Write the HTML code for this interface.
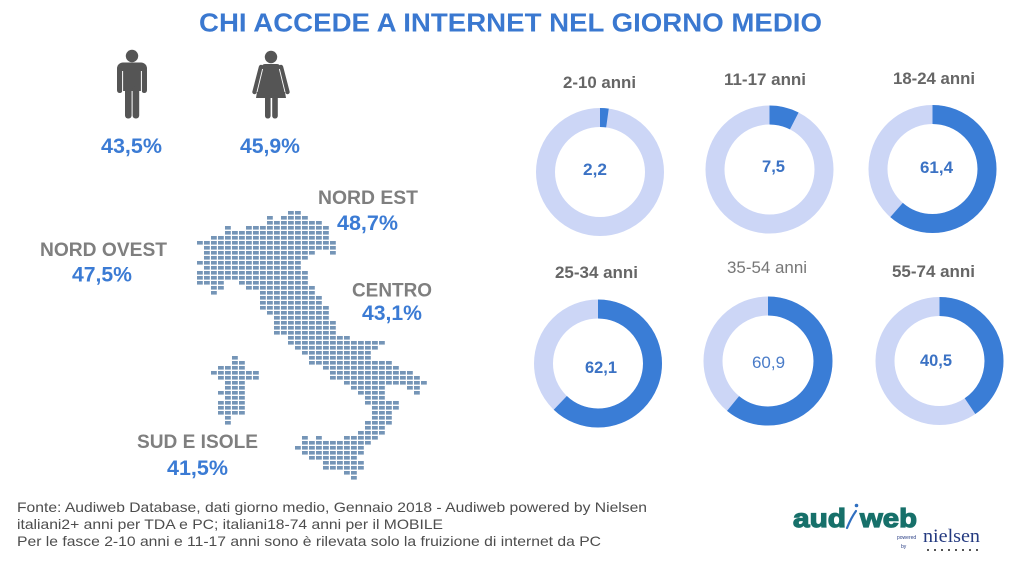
<!DOCTYPE html>
<html><head><meta charset="utf-8">
<style>
html,body{margin:0;padding:0;background:#fff;}
svg{display:block;}
text{font-family:"Liberation Sans",Arial,sans-serif;}
</style></head>
<body>
<svg width="1024" height="565" viewBox="0 0 1024 565" xmlns="http://www.w3.org/2000/svg">
<defs>
<pattern id="d" x="197" y="211" width="7" height="5" patternUnits="userSpaceOnUse">
<rect x="0" y="0" width="5.8" height="3.6" fill="#7595b7"/>
</pattern>
</defs>
<rect width="1024" height="565" fill="#fff"/>

<!-- Title -->
<text x="199" y="31.5" font-size="26" font-weight="bold" fill="#3a78d0" textLength="623" lengthAdjust="spacingAndGlyphs">CHI ACCEDE A INTERNET NEL GIORNO MEDIO</text>

<!-- Man icon -->
<g fill="#555">
<circle cx="132" cy="56" r="6.2"/>
<rect x="117" y="62.5" width="30" height="13" rx="6"/>
<rect x="123" y="66" width="18" height="25"/>
<rect x="117" y="68" width="5.5" height="25" rx="2.7"/>
<rect x="141.5" y="68" width="5.5" height="25" rx="2.7"/>
<rect x="125" y="86" width="6.6" height="32.5" rx="3"/>
<rect x="132.6" y="86" width="6.6" height="32.5" rx="3"/>
</g>
<line x1="122.6" y1="71" x2="122.6" y2="93" stroke="#fff" stroke-width="1"/>
<line x1="141.4" y1="71" x2="141.4" y2="93" stroke="#fff" stroke-width="1"/>

<!-- Woman icon -->
<g fill="#555">
<circle cx="271" cy="57" r="6.2"/>
<path d="M265,64 L277,64 Q280,64 281,68 L286,98 L256,98 L261,68 Q262,64 265,64 Z"/>
<rect x="265" y="95" width="5.6" height="23.5" rx="2.6"/>
<rect x="272.2" y="95" width="5.6" height="23.5" rx="2.6"/>
</g>
<line x1="261" y1="67" x2="254.5" y2="92" stroke="#555" stroke-width="4.4" stroke-linecap="round"/>
<line x1="281" y1="67" x2="287.5" y2="92" stroke="#555" stroke-width="4.4" stroke-linecap="round"/>
<line x1="262.6" y1="69" x2="257" y2="92" stroke="#fff" stroke-width="0.9"/>
<line x1="279.4" y1="69" x2="285" y2="92" stroke="#fff" stroke-width="0.9"/>

<text x="101" y="153" font-size="21" font-weight="bold" fill="#3b7bd4" textLength="61" lengthAdjust="spacingAndGlyphs">43,5%</text>
<text x="240" y="153" font-size="21" font-weight="bold" fill="#3b7bd4" textLength="60" lengthAdjust="spacingAndGlyphs">45,9%</text>

<!-- Italy dot map -->
<g fill="url(#d)">
<rect x="288" y="211" width="14" height="5"/>
<rect x="267" y="216" width="7" height="5"/><rect x="281" y="216" width="28" height="5"/>
<rect x="267" y="221" width="56" height="5"/>
<rect x="225" y="226" width="7" height="5"/><rect x="246" y="226" width="84" height="5"/>
<rect x="225" y="231" width="105" height="5"/>
<rect x="211" y="236" width="119" height="5"/>
<rect x="197" y="241" width="140" height="5"/>
<rect x="204" y="246" width="133" height="5"/>
<rect x="204" y="251" width="112" height="5"/><rect x="330" y="251" width="7" height="5"/>
<rect x="204" y="256" width="105" height="5"/>
<rect x="197" y="261" width="105" height="5"/>
<rect x="204" y="266" width="98" height="5"/>
<rect x="197" y="271" width="112" height="5"/>
<rect x="197" y="276" width="112" height="5"/>
<rect x="197" y="281" width="28" height="5"/><rect x="239" y="281" width="70" height="5"/>
<rect x="211" y="286" width="14" height="5"/><rect x="246" y="286" width="70" height="5"/>
<rect x="211" y="291" width="7" height="5"/><rect x="260" y="291" width="56" height="5"/>
<rect x="260" y="296" width="63" height="5"/>
<rect x="260" y="301" width="63" height="5"/>
<rect x="260" y="306" width="70" height="5"/>
<rect x="267" y="311" width="63" height="5"/>
<rect x="274" y="316" width="56" height="5"/>
<rect x="274" y="321" width="63" height="5"/>
<rect x="274" y="326" width="63" height="5"/>
<rect x="274" y="331" width="63" height="5"/>
<rect x="288" y="336" width="63" height="5"/>
<rect x="288" y="341" width="98" height="5"/>
<rect x="295" y="346" width="84" height="5"/>
<rect x="302" y="351" width="70" height="5"/>
<rect x="309" y="356" width="63" height="5"/>
<rect x="309" y="361" width="84" height="5"/>
<rect x="323" y="366" width="77" height="5"/>
<rect x="330" y="371" width="84" height="5"/>
<rect x="330" y="376" width="91" height="5"/>
<rect x="344" y="381" width="84" height="5"/>
<rect x="351" y="386" width="35" height="5"/><rect x="407" y="386" width="14" height="5"/>
<rect x="358" y="391" width="28" height="5"/><rect x="414" y="391" width="7" height="5"/>
<rect x="365" y="396" width="21" height="5"/>
<rect x="365" y="401" width="35" height="5"/>
<rect x="372" y="406" width="28" height="5"/>
<rect x="372" y="411" width="21" height="5"/>
<rect x="372" y="416" width="21" height="5"/>
<rect x="365" y="421" width="28" height="5"/>
<rect x="365" y="426" width="21" height="5"/>
<rect x="358" y="431" width="28" height="5"/>
<rect x="302" y="436" width="7" height="5"/><rect x="316" y="436" width="7" height="5"/><rect x="344" y="436" width="35" height="5"/>
<rect x="302" y="441" width="70" height="5"/>
<rect x="295" y="446" width="70" height="5"/>
<rect x="302" y="451" width="63" height="5"/>
<rect x="309" y="456" width="49" height="5"/>
<rect x="323" y="461" width="42" height="5"/>
<rect x="323" y="466" width="42" height="5"/>
<rect x="344" y="471" width="14" height="5"/>
<rect x="351" y="476" width="7" height="5"/>
<!-- Sardinia -->
<rect x="232" y="356" width="7" height="5"/>
<rect x="232" y="361" width="14" height="5"/>
<rect x="218" y="366" width="28" height="5"/>
<rect x="211" y="371" width="49" height="5"/>
<rect x="218" y="376" width="42" height="5"/>
<rect x="225" y="381" width="21" height="5"/>
<rect x="225" y="386" width="21" height="5"/>
<rect x="218" y="391" width="28" height="5"/>
<rect x="225" y="396" width="21" height="5"/>
<rect x="218" y="401" width="28" height="5"/>
<rect x="218" y="406" width="28" height="5"/>
<rect x="218" y="411" width="28" height="5"/>
<rect x="225" y="416" width="7" height="5"/>
<rect x="225" y="421" width="7" height="5"/>
</g>

<!-- Region labels -->
<g font-weight="bold">
<text x="318" y="204" font-size="19.5" fill="#7f7f7f" textLength="100" lengthAdjust="spacingAndGlyphs">NORD EST</text>
<text x="337" y="230" font-size="21" fill="#3b7bd4" textLength="61" lengthAdjust="spacingAndGlyphs">48,7%</text>
<text x="40" y="256" font-size="19.5" fill="#7f7f7f" textLength="127" lengthAdjust="spacingAndGlyphs">NORD OVEST</text>
<text x="72" y="281.5" font-size="21" fill="#3b7bd4" textLength="60" lengthAdjust="spacingAndGlyphs">47,5%</text>
<text x="352" y="296.5" font-size="19.5" fill="#7f7f7f" textLength="80" lengthAdjust="spacingAndGlyphs">CENTRO</text>
<text x="362" y="320" font-size="21" fill="#3b7bd4" textLength="60" lengthAdjust="spacingAndGlyphs">43,1%</text>
<text x="137" y="448" font-size="19.5" fill="#7f7f7f" textLength="121" lengthAdjust="spacingAndGlyphs">SUD E ISOLE</text>
<text x="167" y="475" font-size="21" fill="#3b7bd4" textLength="61" lengthAdjust="spacingAndGlyphs">41,5%</text>
</g>

<!-- Donuts (r=54.5, C=342.43) -->
<g fill="none" stroke-width="19">
<circle cx="600" cy="172" r="54.5" stroke="#ccd6f6"/>
<circle cx="600" cy="172" r="54.5" stroke="#3a7dd6" stroke-dasharray="7.53 400" transform="rotate(-90 600 172)"/>
<circle cx="769.5" cy="169.5" r="54.5" stroke="#ccd6f6"/>
<circle cx="769.5" cy="169.5" r="54.5" stroke="#3a7dd6" stroke-dasharray="25.68 400" transform="rotate(-90 769.5 169.5)"/>
<circle cx="932.5" cy="169" r="54.5" stroke="#ccd6f6"/>
<circle cx="932.5" cy="169" r="54.5" stroke="#3a7dd6" stroke-dasharray="210.25 400" transform="rotate(-90 932.5 169)"/>
<circle cx="598" cy="363.5" r="54.5" stroke="#ccd6f6"/>
<circle cx="598" cy="363.5" r="54.5" stroke="#3a7dd6" stroke-dasharray="212.65 400" transform="rotate(-90 598 363.5)"/>
<circle cx="768" cy="361" r="55" stroke="#ccd6f6"/>
<circle cx="768" cy="361" r="55" stroke="#3a7dd6" stroke-dasharray="210.45 400" transform="rotate(-90 768 361)"/>
<circle cx="939.5" cy="361" r="54.5" stroke="#ccd6f6"/>
<circle cx="939.5" cy="361" r="54.5" stroke="#3a7dd6" stroke-dasharray="138.68 400" transform="rotate(-90 939.5 361)"/>
</g>

<!-- Age labels -->
<g font-size="17" fill="#666">
<text x="563" y="88" font-weight="bold" textLength="73" lengthAdjust="spacingAndGlyphs">2-10 anni</text>
<text x="724" y="85" font-weight="bold" textLength="82" lengthAdjust="spacingAndGlyphs">11-17 anni</text>
<text x="893" y="84" font-weight="bold" textLength="82" lengthAdjust="spacingAndGlyphs">18-24 anni</text>
<text x="555" y="278" font-weight="bold" textLength="83" lengthAdjust="spacingAndGlyphs">25-34 anni</text>
<text x="727" y="273" fill="#777" textLength="80" lengthAdjust="spacingAndGlyphs">35-54 anni</text>
<text x="892" y="277" font-weight="bold" textLength="83" lengthAdjust="spacingAndGlyphs">55-74 anni</text>
</g>

<!-- Donut values -->
<g font-size="17" fill="#3b72c4">
<text x="583" y="175" font-weight="bold" textLength="24" lengthAdjust="spacingAndGlyphs">2,2</text>
<text x="762" y="172" font-weight="bold" textLength="23" lengthAdjust="spacingAndGlyphs">7,5</text>
<text x="920" y="173" font-weight="bold" textLength="33" lengthAdjust="spacingAndGlyphs">61,4</text>
<text x="585" y="373" font-weight="bold" textLength="32" lengthAdjust="spacingAndGlyphs">62,1</text>
<text x="752" y="368" fill="#4a7cc8" textLength="33" lengthAdjust="spacingAndGlyphs">60,9</text>
<text x="920" y="366" font-weight="bold" textLength="32" lengthAdjust="spacingAndGlyphs">40,5</text>
</g>

<!-- Footer -->
<g font-size="14" fill="#4d4d4d">
<text x="17" y="512" textLength="630" lengthAdjust="spacingAndGlyphs">Fonte: Audiweb Database, dati giorno medio, Gennaio 2018 - Audiweb powered by Nielsen</text>
<text x="17" y="529" textLength="426" lengthAdjust="spacingAndGlyphs">italiani2+ anni per TDA e PC; italiani18-74 anni per il MOBILE</text>
<text x="17" y="546" textLength="584" lengthAdjust="spacingAndGlyphs">Per le fasce 2-10 anni e 11-17 anni sono è rilevata solo la fruizione di internet da PC</text>
</g>

<!-- Logo -->
<g font-weight="bold" font-size="26" fill="#17706a" stroke="#17706a" stroke-width="1.2">
<text x="793" y="527" textLength="53" lengthAdjust="spacingAndGlyphs">aud</text>
<text x="860" y="527" textLength="57" lengthAdjust="spacingAndGlyphs">web</text>
</g>
<path d="M847,528 Q851,518 856,511" fill="none" stroke="#2f6fc0" stroke-width="2.2" stroke-linecap="round"/>
<circle cx="856.5" cy="505.5" r="1.8" fill="#2f6fc0"/>
<text x="897" y="539" font-size="5" fill="#2a3f85">powered</text>
<text x="901" y="548" font-size="5" fill="#2a3f85">by</text>
<text x="923" y="542" font-size="19" fill="#243a80" style="font-family:'Liberation Serif',serif" textLength="57" lengthAdjust="spacingAndGlyphs">nielsen</text>
<g fill="#555">
<rect x="927" y="549" width="2" height="2"/><rect x="934" y="549" width="2" height="2"/><rect x="941" y="549" width="2" height="2"/>
<rect x="948" y="549" width="2" height="2"/><rect x="955" y="549" width="2" height="2"/><rect x="962" y="549" width="2" height="2"/>
<rect x="969" y="549" width="2" height="2"/><rect x="976" y="549" width="2" height="2"/>
</g>
</svg>
</body></html>
